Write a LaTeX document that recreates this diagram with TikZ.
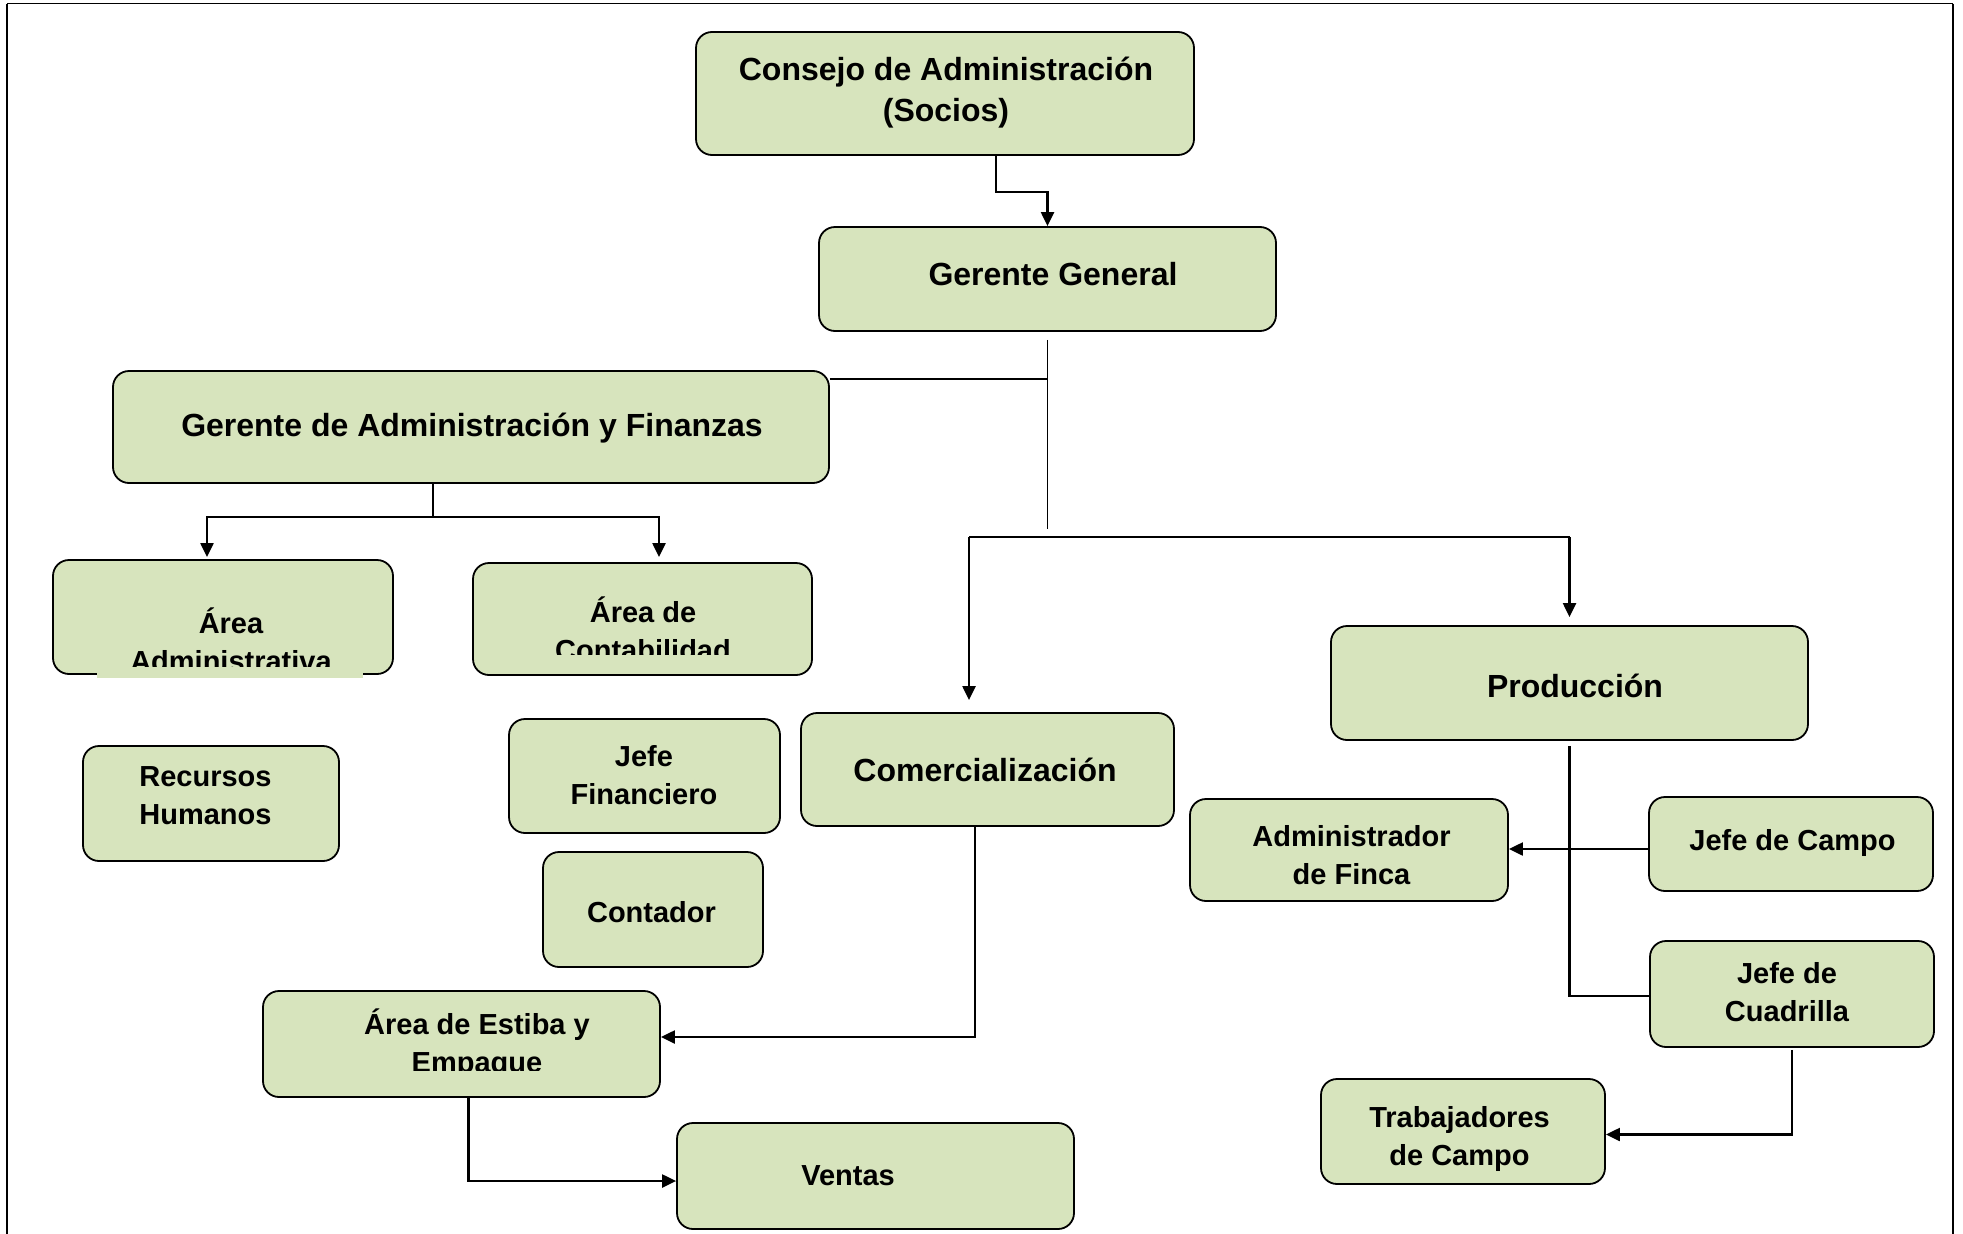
\documentclass[tikz,border=0pt]{standalone}
\usepackage{fontspec}
\setmainfont{Liberation Sans}
\usetikzlibrary{arrows.meta}
\definecolor{boxfill}{HTML}{D7E4BD}

\tikzset{
  box/.style={draw=black,line width=1.8pt,fill=boxfill,rounded corners=16pt},
  bigtxt/.style={align=center,inner sep=0pt,font=\fontsize{32}{41}\selectfont\bfseries},
  smalltxt/.style={align=center,inner sep=0pt,font=\fontsize{29}{38}\selectfont\bfseries},
  conn/.style={draw=black,line width=2.2pt},
  arr/.style={conn,-{Triangle[length=14pt,width=13pt]}},
  cover/.style={fill=boxfill}
}

\begin{document}
\begin{tikzpicture}[x=1pt,y=-1pt]
            \useasboundingbox (0,0) rectangle (1963,1234);
            \draw[line width=1.2pt](7,3.5) -- (1953,3.5);
            \draw[line width=2.5pt](7,3.5) -- (7,1234);
            \draw[line width=2pt](1953,3.5) -- (1953,1234);

            \node[box,minimum width=498pt,minimum height=123pt] (consejo) at (945,93.5) {};
            \node[bigtxt] (consejo-t) at (946,92.5) {Consejo de Administración\\(Socios)};
            \node[box,minimum width=457pt,minimum height=104pt] (gerente) at (1047.5,279) {};
            \node[bigtxt] (gerente-t) at (1053,274) {Gerente General};
            \node[box,minimum width=716pt,minimum height=112pt] (gaf) at (471,427) {};
            \node[bigtxt] (gaf-t) at (472,428) {Gerente de Administración y Finanzas};

            \node[box,minimum width=340pt,minimum height=114pt] (adm) at (223,617) {};
            \node[smalltxt] (adm-t) at (231,640) {Área\\Administrativa};
            \fill[cover](97,667) rectangle (363,678);
            \node[box,minimum width=339pt,minimum height=112pt] (cont) at (642.5,619) {};
            \node[smalltxt] (cont-t) at (643,628.5) {Área de\\Contabilidad};
            \fill[cover](545,655) rectangle (741,670);

            \node[box,minimum width=256pt,minimum height=115pt] (rh) at (211,803.5) {};
            \node[smalltxt] (rh-t) at (205.5,795.5) {Recursos\\Humanos};
            \node[box,minimum width=271pt,minimum height=114pt] (jfin) at (644.5,776) {};
            \node[smalltxt] (jfin-t) at (644,775.5) {Jefe\\Financiero};
            \node[box,minimum width=220pt,minimum height=115pt] (contador) at (653,909.5) {};
            \node[smalltxt] (contador-t) at (651.5,912) {Contador};

            \node[box,minimum width=373pt,minimum height=113pt] (comer) at (987.5,769.5) {};
            \node[bigtxt] (comer-t) at (985,770) {Comercialización};
            \node[box,minimum width=397pt,minimum height=106pt] (estiba) at (461.5,1044) {};
            \node[smalltxt] (estiba-t) at (477,1043.5) {Área de Estiba y\\Empaque};
            \fill[cover](405,1071) rectangle (550,1090);
            \node[box,minimum width=397pt,minimum height=106pt] (ventas) at (875.5,1176) {};
            \node[smalltxt] (ventas-t) at (848,1175.5) {Ventas};

            \node[box,minimum width=477pt,minimum height=114pt] (prod) at (1569.5,683) {};
            \node[bigtxt] (prod-t) at (1575,686) {Producción};
            \node[box,minimum width=318pt,minimum height=102pt] (afinca) at (1349,850) {};
            \node[smalltxt] (afinca-t) at (1351.5,855) {Administrador\\de Finca};
            \node[box,minimum width=284pt,minimum height=94pt] (jcampo) at (1791,844) {};
            \node[smalltxt] (jcampo-t) at (1792.5,843) {Jefe de Campo};
            \node[box,minimum width=284pt,minimum height=106pt] (jcuad) at (1792,994) {};
            \node[smalltxt] (jcuad-t) at (1787,992.5) {Jefe de\\Cuadrilla};
            \node[box,minimum width=284pt,minimum height=105pt] (trab) at (1463,1131.5) {};
            \node[smalltxt] (trab-t) at (1459.5,1139) {Trabajadores\\de Campo};

            \draw[arr]([xshift=51pt]consejo.south) -- ++(0,36) -| (gerente.north);
            \draw[conn,line width=1.5pt]([yshift=-8pt]gerente.south) -- ++(0,189);
            \draw[conn](gaf.east |- 0,379) -- (gerente.south |- 0,379);
            \coordinate (busL) at (969,537);
            \coordinate (busR) at (1569.5,537);
            \draw[conn](busL) -- (busR);
            \draw[arr,shorten >=12pt](busL) -- (busL |- comer.north);
            \draw[arr,shorten >=8pt](busR) -- (prod.north);

            \coordinate (gafdrop) at (433,517);
            \draw[conn](gafdrop |- gaf.south) -- (gafdrop);
            \draw[arr,shorten >=2pt](gafdrop) -| ([xshift=-16pt]adm.north);
            \draw[arr,shorten >=5pt](gafdrop) -| ([xshift=16.5pt]cont.north);

            \draw[arr]([xshift=-12.5pt]comer.south) |- ([yshift=7pt]estiba.east);
            \draw[arr]([xshift=7pt]estiba.south) |- ([yshift=-5pt]ventas.west);

            \draw[conn]([yshift=-5pt]prod.south) |- ([yshift=-2pt]jcuad.west);
            \draw[arr]([yshift=-5pt]jcampo.west) -- ([yshift=-5pt]jcampo.west -| afinca.east);
            \draw[arr]([yshift=-2pt]jcuad.south) |- ([yshift=-3pt]trab.east);
        \end{tikzpicture}
\end{document}
